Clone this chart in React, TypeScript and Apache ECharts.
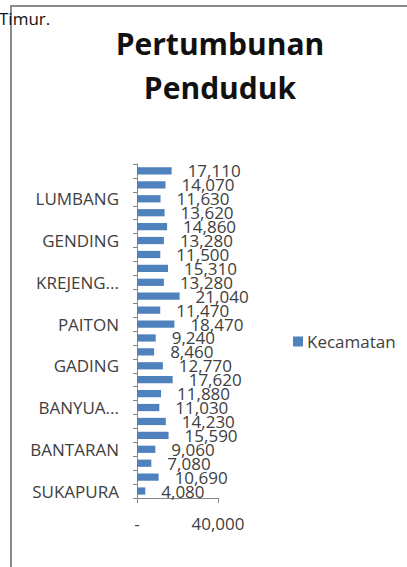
import React, { useEffect, useRef } from "react";
import * as echarts from "echarts";

const categories = [
  "SUKAPURA", "SUMBER", "KURIPAN", "BANTARAN", "LECES", "TEGALSIWALAN",
  "BANYUANYAR", "TIRIS", "KRUCIL", "GADING", "PAKUNIRAN", "KOTAANYAR",
  "PAITON", "BESUK", "KRAKSAAN", "KREJENGAN", "PAJARAKAN", "MARON",
  "GENDING", "DRINGU", "WONOMERTO", "LUMBANG", "TONGAS", "SUMBERASIH",
];
const values = [
  4080, 10690, 7080, 9060, 15590, 14230,
  11030, 11880, 17620, 12770, 8460, 9240,
  18470, 11470, 21040, 13280, 15310, 11500,
  13280, 14860, 13620, 11630, 14070, 17110,
];
const seriesName = "Kecamatan";
const titleText = "Pertumbunan\nPenduduk";
const axisMax = 40000;

const FONT = "'Open Sans', 'Noto Sans', sans-serif";
const fmt = (v: number) => (v === 0 ? "-" : v.toLocaleString("en-US"));

export default function App() {
  const ref = useRef<HTMLDivElement>(null);
  useEffect(() => {
    if (!ref.current) return;
    const chart = echarts.init(ref.current, null, { renderer: "svg" });
    chart.setOption({
      animation: false,
      backgroundColor: "#ffffff",
      textStyle: { fontFamily: FONT },
      title: {
        text: titleText,
        left: 215,
        textAlign: "center",
        top: 16,
        textStyle: {
          fontFamily: FONT,
          fontSize: 30,
          fontWeight: "bold",
          color: "#111111",
          lineHeight: 44,
        },
      },
      legend: {
        left: 288,
        top: 328,
        itemWidth: 10,
        itemHeight: 10,
        icon: "rect",
        textStyle: { fontFamily: FONT, fontSize: 17, color: "#404040", padding: [0, 0, 0, -1] },
        data: [seriesName],
      },
      grid: { left: 137, right: 189, top: 164, bottom: 69, containLabel: false },
      xAxis: {
        type: "value",
        min: 0,
        max: axisMax,
        interval: axisMax,
        axisLine: { show: true, lineStyle: { color: "#868686", width: 1 } },
        axisTick: { show: true, length: 5, lineStyle: { color: "#868686" } },
        splitLine: { show: false },
        axisLabel: {
          formatter: fmt,
          margin: 17,
          fontFamily: FONT,
          fontSize: 17,
          color: "#404040",
        },
      },
      yAxis: {
        type: "category",
        data: categories,
        axisLine: { show: true, lineStyle: { color: "#868686", width: 1 } },
        axisTick: { show: true, length: 4, interval: 0, lineStyle: { color: "#868686" } },
        axisLabel: {
          interval: 2,
          margin: 18,
          fontFamily: FONT,
          fontSize: 17,
          color: "#404040",
          width: 92,
          overflow: "truncate",
          ellipsis: "...",
        },
      },
      series: [
        {
          name: seriesName,
          type: "bar",
          data: values,
          barWidth: "52%",
          itemStyle: { color: "#4F81BD" },
          label: {
            show: true,
            position: "right",
            distance: 16,
            formatter: (p: any) => fmt(p.value),
            fontFamily: FONT,
            fontSize: 17,
            color: "#404040",
          },
        },
      ],
      graphic: [
        {
          type: "rect",
          shape: { x: 11, y: 6, width: 600, height: 700 },
          style: { fill: "none", stroke: "#8c8c8c", lineWidth: 2 },
          silent: true,
          z: 10,
        },
        {
          type: "text",
          x: -1,
          y: 27,
          style: {
            text: "Timur.",
            fontFamily: FONT,
            fontSize: 17,
            fill: "#111111",
            textVerticalAlign: "bottom",
          },
          z: 11,
        },
      ],
    });
    return () => chart.dispose();
  }, []);
  return (
    <div
      ref={ref}
      style={{ position: "fixed", left: 0, top: 0, width: 407, height: 567 }}
    />
  );
}
